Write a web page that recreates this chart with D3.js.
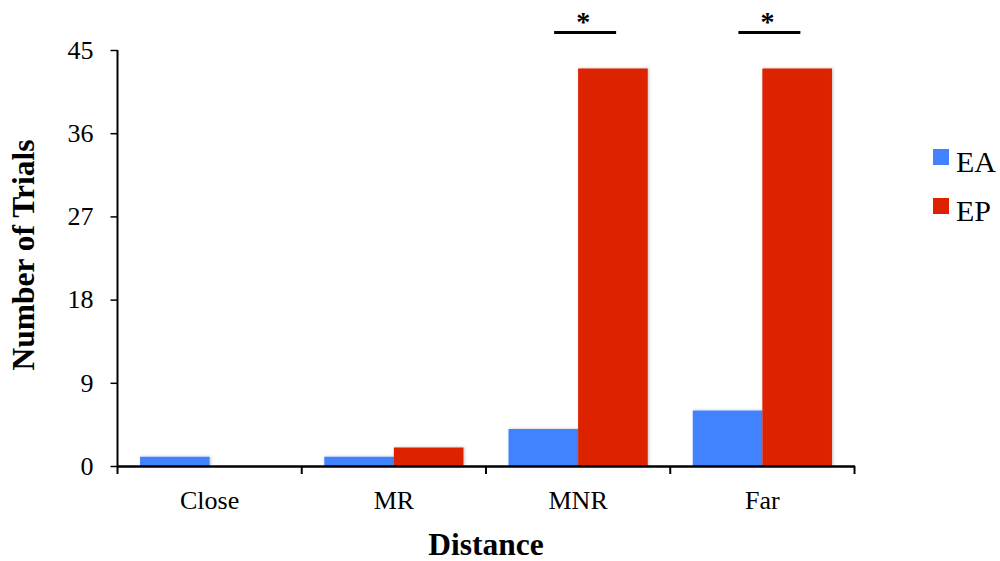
<!DOCTYPE html>
<html><head><meta charset="utf-8">
<script src="https://cdn.jsdelivr.net/npm/d3@7"></script>
<style>body{margin:0;background:#fff;} svg{display:block;} text{font-family:"Liberation Serif","Times New Roman",serif;}</style>
</head><body>
<svg id="chart" width="1000" height="561"></svg>
<script>
const categories = ["Close", "MR", "MNR", "Far"];
const seriesNames = ["EA", "EP"];
const eaValues = [1, 1, 4, 6];
const epValues = [0, 2, 43, 43];
const yTicks = [0, 9, 18, 27, 36, 45];
const significant = ["MNR", "Far"];
const colors = {EA: "#4282FF", EP: "#DD2000"};

const svg = d3.select("#chart");
const margin = {left: 117.5, right: 145.5, top: 50, bottom: 95};
const W = 1000, H = 561;

const defs = svg.append("defs");
const f = defs.append("filter").attr("id","sh").attr("x","-20%").attr("y","-20%").attr("width","140%").attr("height","140%");
f.append("feDropShadow").attr("dx",1).attr("dy",0).attr("stdDeviation",1.5).attr("flood-color","#000").attr("flood-opacity",0.25);

const x0 = d3.scaleBand().domain(categories).range([margin.left, W - margin.right]).padding(0);
const x1 = d3.scaleBand().domain(seriesNames).range([0, x0.bandwidth()]).paddingInner(0).paddingOuter(0.324);
const y = d3.scaleLinear().domain([0, 45]).range([H - margin.bottom, margin.top]);

const data = categories.map((c, i) => ({cat: c, EA: eaValues[i], EP: epValues[i]}));

const g = svg.append("g");
data.forEach(d => {
  seriesNames.forEach(s => {
    if (d[s] <= 0) return;
    g.append("rect")
      .attr("x", x0(d.cat) + x1(s))
      .attr("y", y(d[s]))
      .attr("width", x1.bandwidth())
      .attr("height", y(0) - y(d[s]))
      .attr("fill", colors[s])
      .attr("filter", "url(#sh)");
  });
});

// y axis
const yAxis = d3.axisLeft(y).tickValues(yTicks).tickSize(7).tickPadding(17);
const ya = svg.append("g").attr("transform", `translate(${margin.left},0)`).call(yAxis);
ya.select(".domain").attr("stroke","#000").attr("stroke-width",2).attr("d", `M0,${y(45)}V${y(0)}`);
ya.selectAll(".tick line").attr("stroke","#000").attr("stroke-width",1.5);
ya.selectAll(".tick text").attr("font-size",26).attr("fill","#000").attr("font-family","Liberation Serif");

// x axis
const xAxis = d3.axisBottom(x0).tickSize(0).tickPadding(25);
const xa = svg.append("g").attr("transform", `translate(0,${y(0)})`).call(xAxis);
xa.select(".domain").attr("stroke","#000").attr("stroke-width",2.5);
xa.selectAll(".tick text").attr("font-size",26).attr("fill","#000").attr("font-family","Liberation Serif");
// boundary ticks between categories
const bounds = categories.map(c => x0(c)).concat([x0(categories[categories.length-1]) + x0.bandwidth()]);
xa.selectAll(".bt").data(bounds).enter().append("line")
  .attr("x1", d => d).attr("x2", d => d).attr("y1", 0).attr("y2", 8)
  .attr("stroke", "#000").attr("stroke-width", 2);

// titles
svg.append("text").attr("x", (margin.left + W - margin.right)/2).attr("y", 555)
  .attr("text-anchor","middle").attr("font-size",31.5).attr("font-weight","bold").text("Distance");
svg.append("text").attr("transform", `translate(34,${(y(0)+y(45))/2 - 3}) rotate(-90)`)
  .attr("text-anchor","middle").attr("font-size",31.5).attr("font-weight","bold").text("Number of Trials");

// significance markers
significant.forEach(c => {
  const cx = x0(c) + x0.bandwidth()/2 + 7;
  svg.append("line").attr("x1", cx - 31).attr("x2", cx + 31).attr("y1", 32.5).attr("y2", 32.5)
    .attr("stroke","#000").attr("stroke-width",3);
  svg.append("text").attr("x", cx - 2).attr("y", 31).attr("text-anchor","middle")
    .attr("font-size",28).attr("font-weight","bold").attr("font-family","DejaVu Sans").text("*");
});

// legend
const lg = svg.append("g").attr("transform","translate(933,149)");
seriesNames.forEach((s, i) => {
  const row = lg.append("g").attr("transform", `translate(0,${i*49})`);
  row.append("rect").attr("width",16).attr("height",16).attr("fill",colors[s]);
  row.append("text").attr("x",23).attr("y",22.5).attr("font-size",30).attr("fill","#000").text(s);
});
</script>
</body></html>
